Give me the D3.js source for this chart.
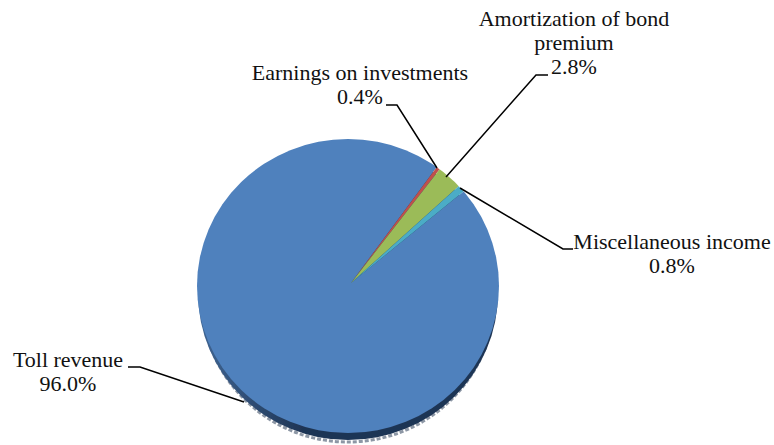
<!DOCTYPE html>
<html>
<head>
<meta charset="utf-8">
<script src="https://cdn.jsdelivr.net/npm/d3@7"></script>
<style>
  html, body { margin: 0; padding: 0; background: #fff; }
  svg { display: block; }
  text { font-family: "Liberation Serif", serif; font-size: 22px; fill: #111; }
</style>
</head>
<body>
<svg></svg>
<script>
const categories = ['Toll revenue', 'Earnings on investments', 'Amortization of bond premium', 'Miscellaneous income']
const values = [96.0, 0.4, 2.8, 0.8]
const sliceColors = ['#4f81bd', '#c0504d', '#9bbb59', '#4bacc6']

const labelLines = [
  ['Toll revenue', '96.0%'],
  ['Earnings on investments', '0.4%'],
  ['Amortization of bond', 'premium', '2.8%'],
  ['Miscellaneous income', '0.8%']
]
const labelAnchors = [[68, 367], [360, 80], [574, 26], [672, 249]]
const leaderPoints = [
  [[128, 367], [140, 367], [244, 402]],
  [[386, 105], [397, 105], [437, 168]],
  [[548, 75], [536, 75], [446, 177]],
  [[573, 249], [563, 249], [460, 188]]
]

const width = 774
const height = 445
const lineHeight = 24

const svg = d3.select('svg').attr('width', width).attr('height', height)

// pie body, the apex sits a bit off the middle of the ellipse so clip it
const cx = 348
const cy = 286
const rx = 151
const ry = 147
const apex = [351, 283]

const defs = svg.append('defs')
defs.append('clipPath').attr('id', 'face')
  .append('ellipse').attr('cx', cx).attr('cy', cy).attr('rx', rx).attr('ry', ry)
defs.append('filter').attr('id', 'soft')
  .append('feGaussianBlur').attr('stdDeviation', 0.5)

const sideFill = defs.append('linearGradient').attr('id', 'side')
sideFill.append('stop').attr('offset', '0%').attr('stop-color', '#3f6593')
sideFill.append('stop').attr('offset', '35%').attr('stop-color', '#1f3555')

// side of the pie, with the rough grey rim underneath
const body = svg.append('g').attr('filter', 'url(#soft)')
body.append('ellipse').attr('cx', cx).attr('cy', cy + 9).attr('rx', rx - 4).attr('ry', ry)
  .attr('fill', 'none')
  .attr('stroke', '#8d97a5')
  .attr('stroke-width', 3)
  .attr('stroke-dasharray', '4 2')
body.append('ellipse').attr('cx', cx).attr('cy', cy + 7).attr('rx', rx - 1).attr('ry', ry)
  .attr('fill', 'url(#side)')

const pie = d3.pie().sort(null).startAngle(50.9 * Math.PI / 180).endAngle((50.9 + 360) * Math.PI / 180)
const arc = d3.arc().innerRadius(0).outerRadius(260)

body.append('g')
  .attr('clip-path', 'url(#face)')
  .append('g')
  .attr('transform', `translate(${apex[0]},${apex[1]})`)
  .selectAll('path')
  .data(pie(values))
  .join('path')
  .attr('d', arc)
  .attr('fill', (d, i) => sliceColors[i])

// leader lines
const line = d3.line()
svg.selectAll('.leader')
  .data(leaderPoints)
  .join('path')
  .attr('class', 'leader')
  .attr('d', line)
  .attr('fill', 'none')
  .attr('stroke', '#000')
  .attr('stroke-width', 1.5)

// labels
const labels = svg.selectAll('.label')
  .data(categories)
  .join('text')
  .attr('class', 'label')
  .attr('text-anchor', 'middle')
  .attr('transform', (d, i) => `translate(${labelAnchors[i][0]},${labelAnchors[i][1]})`)

labels.selectAll('tspan')
  .data((d, i) => labelLines[i])
  .join('tspan')
  .attr('x', 0)
  .attr('y', (d, j) => j * lineHeight)
  .text((d) => d)
</script>
</body>
</html>
